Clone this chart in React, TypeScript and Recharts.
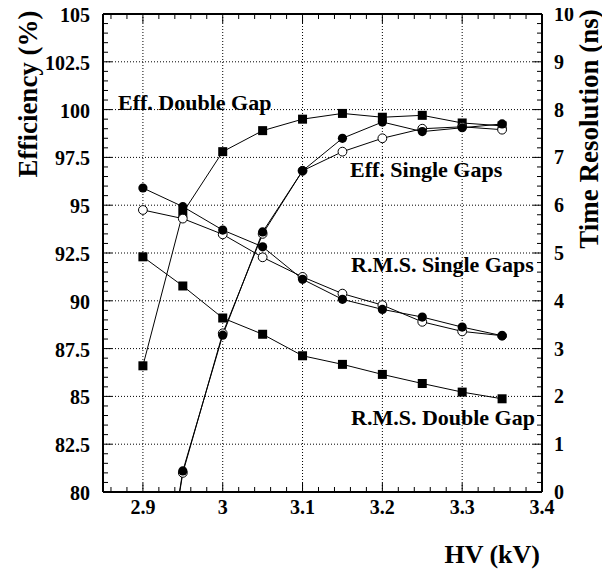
import { LineChart, Line, XAxis, YAxis, CartesianGrid } from "recharts";

// HV scan, kV
const hv = [2.9, 2.95, 3.0, 3.05, 3.1, 3.15, 3.2, 3.25, 3.3, 3.35];

// efficiency (%), left axis
const effDouble = [86.6, 94.6, 97.8, 98.9, 99.5, 99.8, 99.6, 99.7, 99.3, 99.15];
const effSingleA = [68, 81.1, 88.2, 93.6, 96.8, 98.5, 99.35, 98.85, 99.05, 99.25];
const effSingleB = [68, 81.0, 88.3, 93.5, 96.8, 97.8, 98.5, 99.0, 99.1, 98.95];

// time resolution (ns), right axis
const rmsDouble = [4.92, 4.31, 3.64, 3.3, 2.85, 2.67, 2.46, 2.27, 2.09, 1.95];
const rmsSingleA = [6.36, 5.97, 5.48, 5.13, 4.45, 4.03, 3.82, 3.66, 3.45, 3.27];
const rmsSingleB = [5.9, 5.72, 5.39, 4.91, 4.5, 4.15, 3.91, 3.56, 3.36, 3.27];

const xMajor = [2.9, 3, 3.1, 3.2, 3.3, 3.4];
const xLabels = ["2.9", "3", "3.1", "3.2", "3.3", "3.4"];
const effMajor = [80, 82.5, 85, 87.5, 90, 92.5, 95, 97.5, 100, 102.5, 105];
const effLabels = ["80", "82.5", "85", "87.5", "90", "92.5", "95", "97.5", "100", "102.5", "105"];
const nsMajor = [0, 1, 2, 3, 4, 5, 6, 7, 8, 9, 10];
const nsLabels = ["0", "1", "2", "3", "4", "5", "6", "7", "8", "9", "10"];

const rows = hv.map((x, i) => ({
  hv: x,
  effDouble: effDouble[i],
  effSingleA: effSingleA[i],
  effSingleB: effSingleB[i],
  rmsDouble: rmsDouble[i],
  rmsSingleA: rmsSingleA[i],
  rmsSingleB: rmsSingleB[i],
}));

const FONT = "'Liberation Serif', 'Times New Roman', serif";

function steps(lo: number, hi: number, step: number) {
  const n = Math.round((hi - lo) / step);
  const out: number[] = [];
  for (let i = 0; i <= n; i++) out.push(Math.round((lo + i * step) * 1000) / 1000);
  return out;
}

const xTicks = steps(2.86, 3.4, 0.02);
const effTicks = steps(80, 105, 0.5);
const nsTicks = steps(0, 10, 0.2);

function majorIndex(majors: number[], v: number) {
  return majors.findIndex((m) => Math.abs(m - v) < 1e-6);
}

/* eslint-disable @typescript-eslint/no-explicit-any */
function BottomTick(props: any) {
  const { x, y, payload } = props;
  const k = majorIndex(xMajor, payload.value);
  return (
    <g>
      <line x1={x} y1={y} x2={x} y2={y - (k >= 0 ? 9 : 5)} stroke="#000" />
      {k >= 0 && (
        <text x={x} y={y + 22} textAnchor="middle" fontFamily={FONT} fontWeight="bold" fontSize={20} fill="#000">
          {xLabels[k]}
        </text>
      )}
    </g>
  );
}

function TopTick(props: any) {
  const { x, y, payload } = props;
  const k = majorIndex(xMajor, payload.value);
  return <line x1={x} y1={y} x2={x} y2={y + (k >= 0 ? 9 : 5)} stroke="#000" />;
}

function LeftTick(props: any) {
  const { x, y, payload } = props;
  const k = majorIndex(effMajor, payload.value);
  return (
    <g>
      <line x1={x} y1={y} x2={x + (k >= 0 ? 9 : 5)} y2={y} stroke="#000" />
      {k >= 0 && (
        <text x={x - 13} y={y + 8} textAnchor="end" fontFamily={FONT} fontWeight="bold" fontSize={20} fill="#000">
          {effLabels[k]}
        </text>
      )}
    </g>
  );
}

function RightTick(props: any) {
  const { x, y, payload } = props;
  const k = majorIndex(nsMajor, payload.value);
  return (
    <g>
      <line x1={x} y1={y} x2={x - (k >= 0 ? 9 : 5)} y2={y} stroke="#000" />
      {k >= 0 && (
        <text x={x + 12} y={y + 7} textAnchor="start" fontFamily={FONT} fontWeight="bold" fontSize={20} fill="#000">
          {nsLabels[k]}
        </text>
      )}
    </g>
  );
}

const squareDot = (props: any) => (
  <rect key={`s-${props.index}`} x={props.cx - 4.5} y={props.cy - 4.5} width={9} height={9} fill="#000" />
);
const filledDot = (props: any) => (
  <circle key={`f-${props.index}`} cx={props.cx} cy={props.cy} r={4.6} fill="#000" />
);
const openDot = (props: any) => (
  <circle key={`o-${props.index}`} cx={props.cx} cy={props.cy} r={4.4} fill="#fff" stroke="#000" strokeWidth={1} />
);
/* eslint-enable @typescript-eslint/no-explicit-any */

const W = 594;
const H = 570;
const TOP = 6;

export default function App() {
  const axisLine = { stroke: "#000", strokeWidth: 2 };
  const lineProps = {
    xAxisId: "bottom",
    type: "linear" as const,
    stroke: "#000",
    strokeWidth: 1,
    isAnimationActive: false,
  };
  return (
    <div style={{ position: "relative", width: W, height: H, marginTop: -TOP }}>
      <LineChart width={W} height={H} data={rows} margin={{ top: TOP, right: 0, bottom: 0, left: 0 }}>
        <CartesianGrid
          xAxisId="bottom"
          yAxisId="left"
          stroke="#000"
          strokeDasharray="1 2"
          verticalValues={[2.9, 3, 3.1, 3.2, 3.3]}
          horizontalValues={[82.5, 85, 87.5, 90, 92.5, 95, 97.5, 100, 102.5]}
        />
        <XAxis
          xAxisId="bottom"
          dataKey="hv"
          type="number"
          domain={[2.85, 3.4]}
          allowDataOverflow
          ticks={xTicks}
          interval={0}
          tickSize={0}
          tickMargin={0}
          tickLine={false}
          axisLine={axisLine}
          tick={BottomTick}
          height={80}
        />
        <XAxis
          xAxisId="top"
          orientation="top"
          dataKey="hv"
          type="number"
          domain={[2.85, 3.4]}
          allowDataOverflow
          ticks={xTicks}
          interval={0}
          tickSize={0}
          tickMargin={0}
          tickLine={false}
          axisLine={axisLine}
          tick={TopTick}
          height={6}
        />
        <YAxis
          yAxisId="left"
          type="number"
          domain={[80, 105]}
          allowDataOverflow
          ticks={effTicks}
          interval={0}
          tickSize={0}
          tickMargin={0}
          tickLine={false}
          axisLine={axisLine}
          tick={LeftTick}
          width={95}
        />
        <YAxis
          yAxisId="right"
          orientation="right"
          type="number"
          domain={[0, 10]}
          allowDataOverflow
          ticks={nsTicks}
          interval={0}
          tickSize={0}
          tickMargin={0}
          tickLine={false}
          axisLine={axisLine}
          tick={RightTick}
          width={60}
        />
        <Line {...lineProps} yAxisId="left" dataKey="effDouble" dot={squareDot} />
        <Line {...lineProps} yAxisId="right" dataKey="rmsDouble" dot={squareDot} />
        <Line {...lineProps} yAxisId="left" dataKey="effSingleB" dot={openDot} />
        <Line {...lineProps} yAxisId="right" dataKey="rmsSingleB" dot={openDot} />
        <Line {...lineProps} yAxisId="left" dataKey="effSingleA" dot={filledDot} />
        <Line {...lineProps} yAxisId="right" dataKey="rmsSingleA" dot={filledDot} />
      </LineChart>
      <svg
        width={W}
        height={H}
        style={{ position: "absolute", left: 0, top: TOP, pointerEvents: "none", overflow: "visible" }}
        fontFamily={FONT}
        fontWeight="bold"
        fill="#000"
      >
        <text x={110} y={102} fontSize={22}>Eff. Double Gap</text>
        <text x={342} y={169} fontSize={22}>Eff. Single Gaps</text>
        <text x={343} y={264} fontSize={22}>R.M.S. Single Gaps</text>
        <text x={343} y={417} fontSize={22}>R.M.S. Double Gap</text>
        <text x={532} y={555} fontSize={26} textAnchor="end">HV (kV)</text>
        <text transform="translate(29,86) rotate(-90)" fontSize={27} textAnchor="middle">Efficiency (%)</text>
        <text transform="translate(590,121) rotate(-90)" fontSize={27} textAnchor="middle">Time Resolution (ns)</text>
      </svg>
    </div>
  );
}
